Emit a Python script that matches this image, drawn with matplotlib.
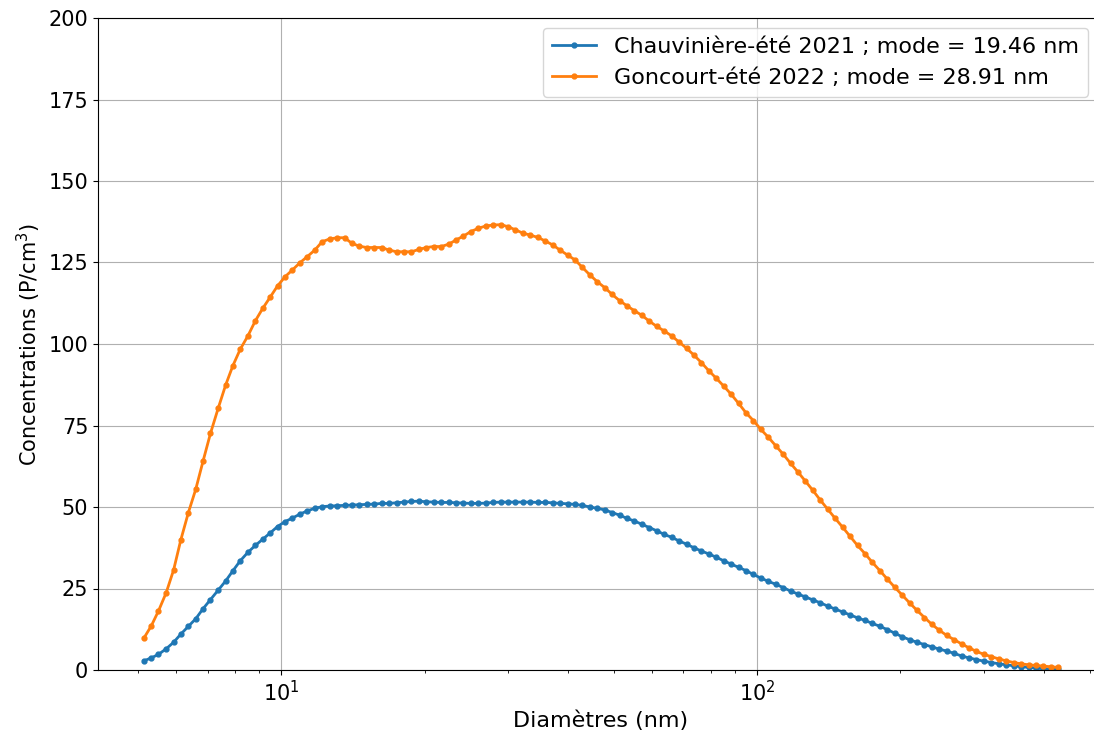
import matplotlib
matplotlib.use("Agg")
import matplotlib.pyplot as plt

# SMPS channel mid-diameters (nm), 64 channels per decade
diametres = [
    5.14, 5.33, 5.52, 5.73, 5.94, 6.15, 6.38, 6.61, 6.85, 7.10,
    7.37, 7.64, 7.91, 8.20, 8.51, 8.82, 9.14, 9.47, 9.82,
    10.18, 10.55, 10.94, 11.34, 11.76, 12.19, 12.63, 13.10, 13.58, 14.07,
    14.59, 15.12, 15.68, 16.25, 16.85, 17.47, 18.11, 18.77, 19.46, 20.17,
    20.91, 21.67, 22.47, 23.29, 24.14, 25.03, 25.95, 26.90, 27.88, 28.91,
    29.96, 31.06, 32.20, 33.38, 34.60, 35.87, 37.18, 38.54, 39.95, 41.42,
    42.93, 44.51, 46.14, 47.83, 49.58, 51.40, 53.28, 55.23, 57.25, 59.35,
    61.53, 63.78, 66.12, 68.54, 71.05, 73.65, 76.35, 79.15, 82.05, 85.05,
    88.17, 91.40, 94.74, 98.22,
    101.82, 105.55, 109.41, 113.42, 117.57, 121.88, 126.35, 130.97, 135.77,
    140.75, 145.90, 151.25, 156.79, 162.53, 168.49, 174.66, 181.06, 187.69,
    194.56, 201.69, 209.08, 216.74, 224.68, 232.91, 241.44, 250.29, 259.45,
    268.96, 278.81, 289.02, 299.61, 310.59, 321.97, 333.76, 345.99, 358.66,
    371.80, 385.42, 399.54, 414.18, 429.35,
]

# Chauviniere - ete 2021
chauviniere = [
    2.8, 3.7, 4.8, 6.5, 8.5, 11.0, 13.4, 15.7, 18.8, 21.6,
    24.5, 27.3, 30.4, 33.5, 36.1, 38.2, 40.1, 42.0, 44.0, 45.5,
    46.6, 47.8, 48.8, 49.6, 50.1, 50.3, 50.4, 50.5, 50.6, 50.7,
    50.8, 50.9, 51.1, 51.1, 51.3, 51.5, 51.7, 51.8, 51.6, 51.5,
    51.4, 51.4, 51.3, 51.2, 51.1, 51.1, 51.2, 51.4, 51.5, 51.5,
    51.5, 51.5, 51.5, 51.4, 51.4, 51.3, 51.1, 51.0, 50.8, 50.5,
    50.0, 49.6, 49.1, 48.3, 47.5, 46.5, 45.7, 44.7, 43.7, 42.7,
    41.6, 40.7, 39.6, 38.6, 37.5, 36.5, 35.6, 34.6, 33.5, 32.5,
    31.5, 30.5, 29.3, 28.2, 27.2, 26.3, 25.3, 24.2, 23.3, 22.4,
    21.5, 20.6, 19.6, 18.7, 17.8, 16.9, 16.0, 15.2, 14.3, 13.4,
    12.4, 11.3, 10.2, 9.3, 8.5, 7.8, 7.1, 6.4, 5.8, 5.1,
    4.3, 3.7, 3.2, 2.7, 2.3, 1.9, 1.6, 1.3, 1.0, 0.8,
    0.6, 0.4, 0.3, 0.2,
]

# Goncourt - ete 2022
goncourt = [
    9.7, 13.5, 18.1, 23.7, 30.7, 39.9, 48.3, 55.4, 64.1, 72.6,
    80.3, 87.4, 93.3, 98.4, 102.5, 107.1, 110.9, 114.3, 117.8, 120.6,
    122.7, 124.9, 126.8, 128.8, 131.4, 132.2, 132.6, 132.6, 130.9, 130.0,
    129.6, 129.6, 129.6, 128.8, 128.3, 128.3, 128.3, 129.0, 129.6, 129.9,
    129.9, 130.6, 131.9, 133.1, 134.5, 135.5, 136.2, 136.5, 136.6, 136.0,
    135.0, 134.0, 133.4, 132.7, 131.6, 130.4, 128.8, 127.3, 125.8, 123.5,
    121.2, 119.1, 117.3, 115.2, 113.3, 111.7, 110.2, 108.8, 107.0, 105.4,
    104.0, 102.5, 100.6, 98.7, 96.6, 94.3, 91.8, 89.5, 87.1, 84.6,
    81.8, 78.9, 76.5, 73.8, 71.4, 68.8, 66.2, 63.4, 60.7, 57.9,
    55.1, 52.1, 49.3, 46.5, 43.8, 41.0, 38.2, 35.7, 33.0, 30.5,
    27.9, 25.4, 23.0, 20.6, 18.3, 16.1, 14.0, 12.2, 10.6, 9.3,
    8.0, 6.8, 5.7, 4.8, 4.1, 3.4, 2.8, 2.3, 1.9, 1.6,
    1.4, 1.2, 1.0, 0.8,
]

labels = [
    "Chauvinière-été 2021 ; mode = 19.46 nm",
    "Goncourt-été 2022 ; mode = 28.91 nm",
]
y_ticks = [0, 25, 50, 75, 100, 125, 150, 175, 200]

fs = 15

fig = plt.figure(figsize=(10.94, 7.35), dpi=100)
# axes run past the right edge of the picture, as in the reference crop
ax = fig.add_axes([98 / 1094, 65 / 735, 1006 / 1094, 652 / 735])

ax.plot(diametres, chauviniere, marker=".", markersize=7, linewidth=2,
        color="#1f77b4", label=labels[0])
ax.plot(diametres, goncourt, marker=".", markersize=7, linewidth=2,
        color="#ff7f0e", label=labels[1])

ax.set_xscale("log")
ax.set_ylim(0, 200)
ax.set_yticks(y_ticks)
ax.grid(True, which="major")
ax.set_xlabel("Diamètres (nm)", fontsize=16)
ax.set_ylabel("Concentrations (P/cm$^3$)", fontsize=fs)
ax.tick_params(axis="both", which="major", labelsize=fs)
ax.legend(loc="upper right", fontsize=16, borderaxespad=0,
          bbox_to_anchor=(1088 / 1094, 707 / 735),
          bbox_transform=fig.transFigure)

fig.savefig("out.png", dpi=100)
